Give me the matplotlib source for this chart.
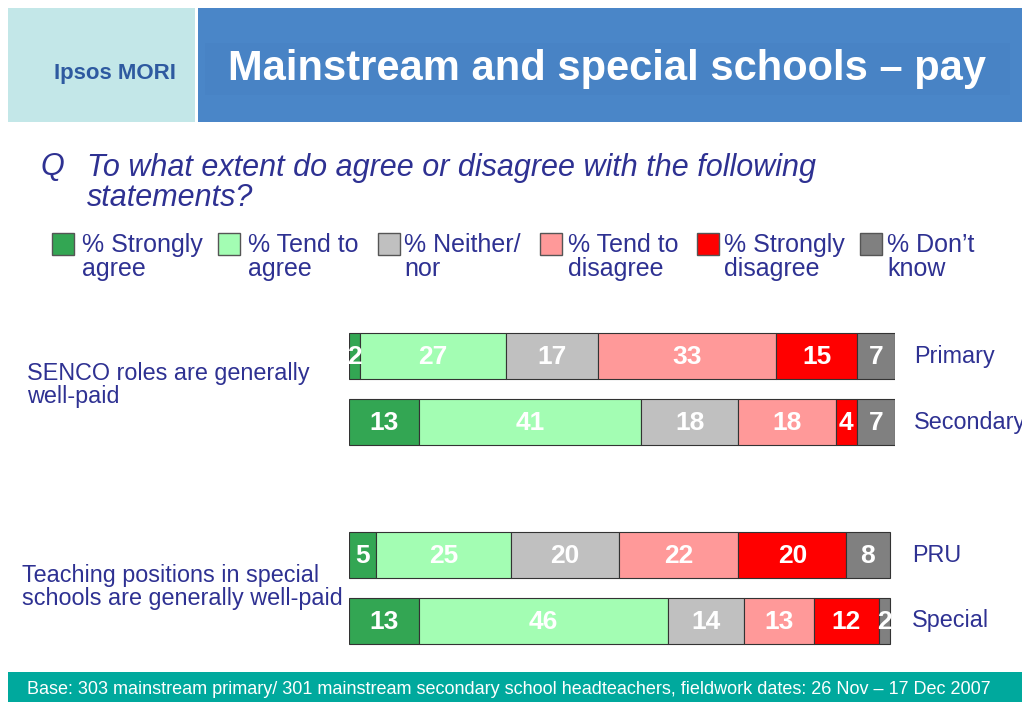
import matplotlib.pyplot as plt
from matplotlib.patches import Rectangle

W, H = 1022, 702

categories = ["% Strongly\nagree", "% Tend to\nagree", "% Neither/\nnor",
              "% Tend to\ndisagree", "% Strongly\ndisagree", "% Don\u2019t\nknow"]
colors = ["#33A653", "#A3FDB3", "#C0C0C0", "#FF9999", "#FF0000", "#808080"]

rows = ["Primary", "Secondary", "PRU", "Special"]
primary = [2, 27, 17, 33, 15, 7]
secondary = [13, 41, 18, 18, 4, 7]
pru = [5, 25, 20, 22, 20, 8]
special = [13, 46, 14, 13, 12, 2]
values = [primary, secondary, pru, special]

statements = ["SENCO roles are generally\nwell-paid",
              "Teaching positions in special\nschools are generally well-paid"]

title = "Mainstream and special schools \u2013 pay"
question = "To what extent do agree or disagree with the following\nstatements?"
base_note = ("Base: 303 mainstream primary/ 301 mainstream secondary school headteachers, "
             "fieldwork dates: 26 Nov \u2013 17 Dec 2007")

plt.rcParams['font.family'] = ["Liberation Sans", "DejaVu Sans"]

TXT = "#2E3192"

fig = plt.figure(figsize=(W / 100, H / 100), dpi=100)


def fx(x):
    return x / W


def fy(y):
    return 1 - y / H


# header
fig.patches.append(Rectangle((fx(8), fy(122)), fx(187), 114 / H, transform=fig.transFigure,
                             facecolor="#C3E7E8", edgecolor="none"))
fig.patches.append(Rectangle((fx(198), fy(122)), fx(824), 114 / H, transform=fig.transFigure,
                             facecolor="#4A86C8", edgecolor="none"))
fig.patches.append(Rectangle((fx(205), fy(95)), fx(805), 52 / H, transform=fig.transFigure,
                             facecolor="#4883C5", edgecolor="none"))
fig.text(fx(115), fy(73), "Ipsos MORI", color="#2E5AA0", fontsize=16, fontweight="bold",
         ha="center", va="center")
fig.text(fx(607), fy(69), title, color="white", fontsize=30, fontweight="bold",
         ha="center", va="center")

# question
fig.text(fx(40), fy(167), "Q", color=TXT, fontsize=22, style="italic", va="center")
fig.text(fx(87), fy(183), question, color=TXT, fontsize=22, style="italic", va="center",
         linespacing=1.0)

# legend
sq_x = [52, 218, 378, 540, 697, 860]
tx_x = [82, 248, 404, 568, 724, 887]
for i, lab in enumerate(categories):
    fig.patches.append(Rectangle((fx(sq_x[i]), fy(255)), fx(22), 22 / H, transform=fig.transFigure,
                                 facecolor=colors[i], edgecolor="#555555", linewidth=1))
    fig.text(fx(tx_x[i]), fy(257), lab, color=TXT, fontsize=18, va="center",
             linespacing=1.0)

# bars
ax = fig.add_axes([fx(349), 0, fx(546), 1])
ax.set_xlim(0, 101)
ax.set_ylim(H, 0)
ax.axis("off")

y_pos = [356, 422, 555, 621]
label_x = [914, 914, 912, 912]
for r, vals in enumerate(values):
    left = 0
    for i, v in enumerate(vals):
        ax.barh(y_pos[r], v, left=left, height=46, color=colors[i],
                edgecolor="#333333", linewidth=0.8)
        ax.text(left + v / 2, y_pos[r] + 1, str(v), color="white", fontsize=19,
                fontweight="bold", ha="center", va="center")
        left += v
    fig.text(fx(label_x[r]), fy(y_pos[r]), rows[r], color=TXT, fontsize=16.8, va="center")

fig.text(fx(27), fy(385), statements[0], color=TXT, fontsize=16.8, va="center", linespacing=0.95)
fig.text(fx(22), fy(587), statements[1], color=TXT, fontsize=16.8, va="center", linespacing=0.95)

# footer
fig.patches.append(Rectangle((fx(8), 0), fx(1014), 30 / H, transform=fig.transFigure,
                             facecolor="#00A99D", edgecolor="none"))
fig.text(fx(27), fy(689), base_note, color="white", fontsize=13, va="center")

fig.savefig("out.png", dpi=100)
